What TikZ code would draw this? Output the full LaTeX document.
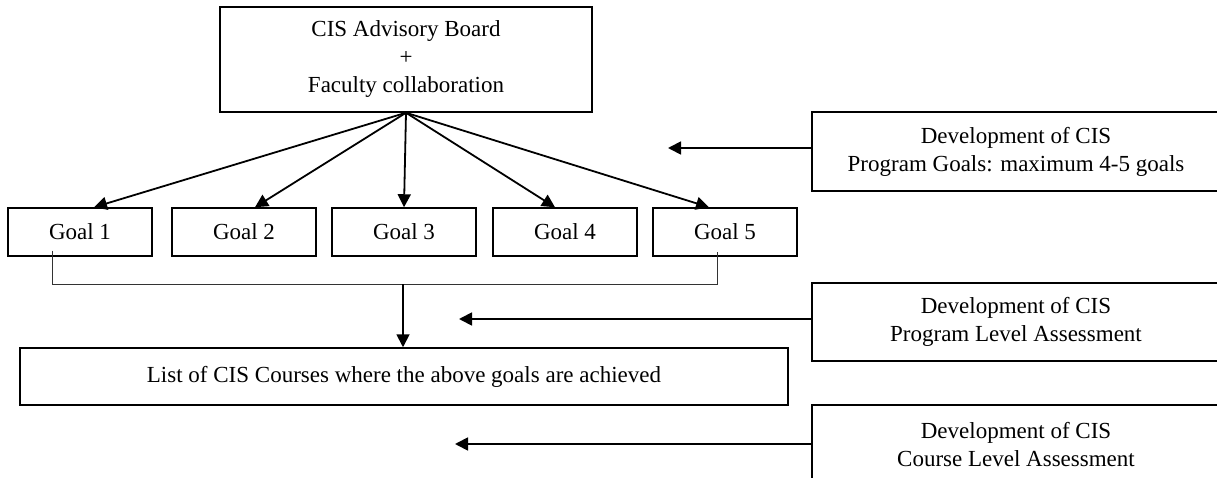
\documentclass[tikz,border=0pt]{standalone}
\usepackage{fontspec}
\setmainfont{Liberation Serif}
\usetikzlibrary{arrows.meta}
\begin{document}
\begin{tikzpicture}[x=1pt,y=-1pt,
  every node/.style={font=\fontsize{23}{28}\selectfont, inner sep=0pt, align=center},
  boxnode/.style={draw, line width=1.5pt, minimum width=#1},
  arr/.style={line width=1.8pt, -{Triangle[length=13pt,width=13pt]}},
  thin/.style={line width=0.9pt, draw=black!80}]
\useasboundingbox (0,0) rectangle (1217,478);
% top box
\node[boxnode=372pt, minimum height=105pt] (top) at (406,59.5)
  {CIS Advisory Board\\+\\Faculty collaboration};
% goals
\foreach \i/\x in {1/80,2/244,3/404,4/565,5/725}
  \node[boxnode=144pt, minimum height=48pt] (g\i) at (\x,232) {Goal \i};
% list box
\node[boxnode=768pt, minimum height=57pt] (list) at (404,376.5)
  {List of CIS Courses where the above goals are achieved};
% right boxes
\node[boxnode=408pt, minimum height=79pt] (r1) at (1016,151.5)
  {Development of CIS\\Program Goals: maximum 4-5 goals};
\node[boxnode=408pt, minimum height=78pt] (r2) at (1016,322)
  {Development of CIS\\Program Level Assessment};
\node[boxnode=408pt, minimum height=80pt] (r3) at (1016,445)
  {Development of CIS\\Course Level Assessment};
% arrows from top
\draw[arr] (top.south) -- ([xshift=14pt]g1.north);
\draw[arr] (top.south) -- ([xshift=11pt]g2.north);
\draw[arr] (top.south) -- (g3.north);
\draw[arr] (top.south) -- ([xshift=-10pt]g4.north);
\draw[arr] (top.south) -- ([xshift=-16pt]g5.north);
% bracket
\coordinate (bl) at (52,284);
\coordinate (br) at (717,284);
\coordinate (bm) at (403,284);
\draw[thin] ([yshift=6pt]g1.south -| bl) -- (bl) -- (br) -- ([yshift=5pt]g5.south -| br);
\draw[arr] (bm) -- (list.north -| bm);
% side arrows
\coordinate (a1) at (668,148);
\coordinate (a2) at (459,319);
\coordinate (a3) at (455,444);
\draw[arr] (r1.west |- a1) -- (a1);
\draw[arr] (r2.west |- a2) -- (a2);
\draw[arr] (r3.west |- a3) -- (a3);
\end{tikzpicture}
\end{document}
